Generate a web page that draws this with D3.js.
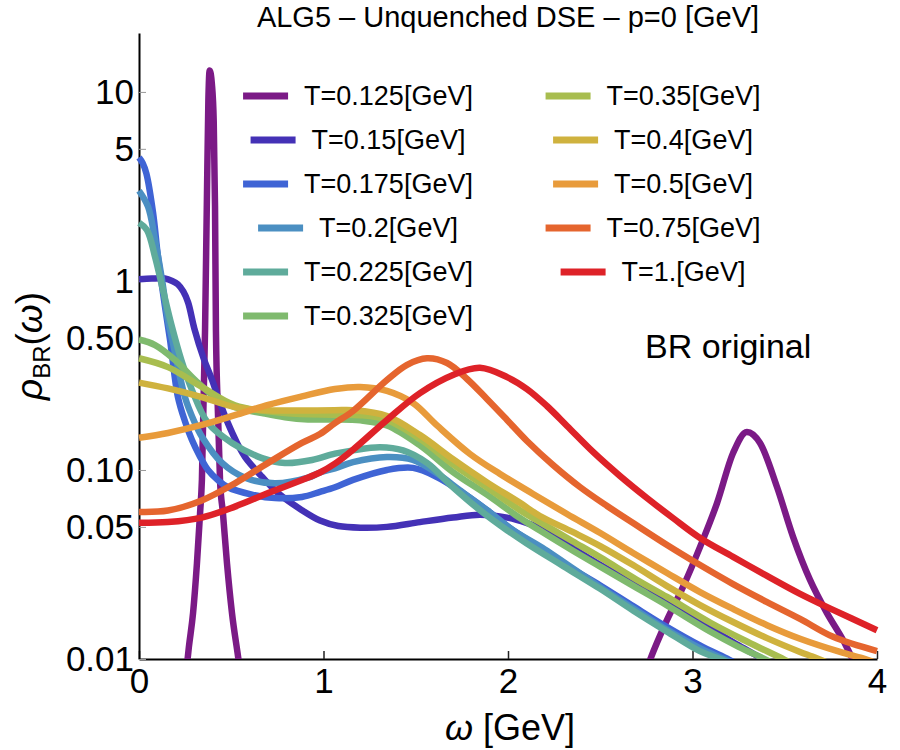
<!DOCTYPE html>
<html>
<head>
<meta charset="utf-8">
<script src="https://cdn.jsdelivr.net/npm/d3@7"></script>
<style>
  body { margin: 0; background: #fff; }
  text { font-family: "Liberation Sans", Arial, sans-serif; fill: #000; }
</style>
</head>
<body>
<div id="chart"></div>
<script>
// legend labels and line colours, one per temperature
var labels = ["T=0.125[GeV]", "T=0.15[GeV]", "T=0.175[GeV]", "T=0.2[GeV]", "T=0.225[GeV]", "T=0.325[GeV]",
              "T=0.35[GeV]", "T=0.4[GeV]", "T=0.5[GeV]", "T=0.75[GeV]", "T=1.[GeV]"];
var colors = ["#7b1a86", "#4431b6", "#3f64d5", "#4b8fc2", "#5fab9b", "#7fba6e",
              "#a8bd4f", "#cfb23e", "#e89b3b", "#e5652e", "#de2228"];

// rho_BR(omega), [omega GeV, rho]
var rho125 = [[0.20, 0.002], [0.25, 0.0075], [0.27, 0.0115], [0.293, 0.0175], [0.314, 0.032], [0.331, 0.059],
  [0.341, 0.089], [0.358, 0.55], [0.368, 2.7], [0.376, 9], [0.383, 13], [0.395, 11], [0.405, 7], [0.412, 2.5],
  [0.417, 0.55], [0.428, 0.2], [0.439, 0.089], [0.455, 0.059], [0.477, 0.032], [0.504, 0.0175], [0.537, 0.0103],
  [0.57, 0.006], [0.70, 0.002], [2.60, 0.003], [2.77, 0.0099], [2.862, 0.0161], [2.948, 0.024], [3.041, 0.0392],
  [3.133, 0.0668], [3.22, 0.123], [3.295, 0.159], [3.366, 0.139], [3.458, 0.0813], [3.545, 0.0443],
  [3.637, 0.0262], [3.729, 0.0175], [3.816, 0.0126], [3.87, 0.0099], [4.0, 0.006]];
var rho150 = [[0, 1.02], [0.07, 1.03], [0.14, 1.03], [0.18, 1.0], [0.211, 0.96], [0.24, 0.88], [0.266, 0.77],
  [0.30, 0.56], [0.35, 0.39], [0.396, 0.30], [0.44, 0.225], [0.482, 0.177], [0.53, 0.14], [0.575, 0.117],
  [0.667, 0.092], [0.753, 0.0755], [0.883, 0.0613], [0.981, 0.054], [1.08, 0.0505], [1.2, 0.0495], [1.344, 0.05],
  [1.523, 0.053], [1.702, 0.056], [1.848, 0.058], [1.995, 0.056], [2.10, 0.0525], [2.17, 0.0495], [2.27, 0.044],
  [2.4, 0.036], [2.5, 0.0315], [2.7, 0.0245], [2.92, 0.0185], [3.1, 0.0145], [3.25, 0.0118], [3.38, 0.01], [3.5, 0.0085]];
var rho175 = [[0, 4.5], [0.02, 4.2], [0.04, 3.7], [0.076, 2.3], [0.103, 1.34], [0.141, 0.73], [0.168, 0.49],
  [0.211, 0.243], [0.25, 0.18], [0.287, 0.144], [0.33, 0.118], [0.374, 0.1], [0.43, 0.088], [0.482, 0.081],
  [0.612, 0.074], [0.737, 0.071], [0.883, 0.072], [0.981, 0.0766], [1.062, 0.081], [1.16, 0.0886], [1.344, 0.1],
  [1.485, 0.1026], [1.615, 0.0918], [1.756, 0.0755], [1.886, 0.0613], [2.027, 0.048], [2.136, 0.041], [2.3, 0.032],
  [2.5, 0.0245], [2.68, 0.019], [2.86, 0.0148], [3.04, 0.0118], [3.2, 0.0099], [3.3, 0.0088]];
var rho200 = [[0, 3.0], [0.049, 2.47], [0.087, 1.65], [0.125, 1.01], [0.157, 0.62], [0.184, 0.47], [0.249, 0.243],
  [0.30, 0.18], [0.341, 0.15], [0.45, 0.109], [0.575, 0.091], [0.737, 0.085], [0.916, 0.091], [0.981, 0.097],
  [1.062, 0.102], [1.16, 0.11], [1.344, 0.117], [1.485, 0.113], [1.615, 0.096], [1.74, 0.078], [1.886, 0.0613],
  [2.027, 0.048], [2.2, 0.038], [2.5, 0.024], [2.68, 0.0185], [2.86, 0.0143], [3.04, 0.0114], [3.18, 0.0099], [3.3, 0.0088]];
var rho225 = [[0, 2.03], [0.043, 1.86], [0.087, 1.34], [0.13, 0.895], [0.179, 0.57], [0.23, 0.38], [0.287, 0.265],
  [0.374, 0.177], [0.504, 0.139], [0.667, 0.1156], [0.791, 0.109], [0.938, 0.113], [1.062, 0.122], [1.16, 0.127],
  [1.306, 0.132], [1.431, 0.127], [1.561, 0.109], [1.702, 0.081], [1.848, 0.0613], [1.995, 0.048], [2.10, 0.041],
  [2.3, 0.031], [2.5, 0.0235], [2.68, 0.018], [2.86, 0.014], [3.04, 0.011], [3.16, 0.0099], [3.3, 0.0085]];
var rho325 = [[0, 0.49], [0.087, 0.458], [0.195, 0.382], [0.304, 0.299], [0.412, 0.243], [0.52, 0.215], [0.667, 0.2],
  [0.791, 0.19], [0.916, 0.185], [1.06, 0.185], [1.2, 0.183], [1.344, 0.172], [1.523, 0.135], [1.702, 0.0975],
  [1.886, 0.074], [2.065, 0.0557], [2.173, 0.0478], [2.35, 0.0375], [2.5, 0.0308], [2.7, 0.0237], [2.862, 0.0192],
  [3.1, 0.0139], [3.25, 0.0116], [3.4, 0.0099], [3.5, 0.0088]];
var rho350 = [[0, 0.39], [0.157, 0.35], [0.34, 0.275], [0.52, 0.22], [0.79, 0.2], [1.06, 0.196], [1.2, 0.195],
  [1.344, 0.184], [1.523, 0.146], [1.702, 0.107], [1.886, 0.081], [2.065, 0.0613], [2.173, 0.053], [2.35, 0.042],
  [2.5, 0.0345], [2.7, 0.0262], [2.862, 0.0213], [3.1, 0.0155], [3.3, 0.0123], [3.5, 0.0099], [3.6, 0.0088]];
var rho400 = [[0, 0.29], [0.157, 0.27], [0.34, 0.243], [0.52, 0.215], [0.70, 0.207], [1.06, 0.207], [1.16, 0.207],
  [1.344, 0.193], [1.523, 0.153], [1.702, 0.114], [1.886, 0.086], [2.065, 0.067], [2.173, 0.0571], [2.35, 0.047],
  [2.5, 0.0396], [2.678, 0.0314], [2.862, 0.0243], [3.041, 0.0193], [3.22, 0.0157], [3.404, 0.0129], [3.583, 0.0109],
  [3.65, 0.0103], [3.75, 0.0094]];
var rho500 = [[0, 0.148], [0.157, 0.157], [0.34, 0.173], [0.52, 0.195], [0.70, 0.221], [0.883, 0.245], [1.062, 0.268],
  [1.198, 0.275], [1.344, 0.262], [1.485, 0.226], [1.615, 0.172], [1.794, 0.1215], [1.957, 0.0952], [2.136, 0.0747],
  [2.32, 0.0585], [2.5, 0.0464], [2.678, 0.0364], [2.862, 0.0285], [3.041, 0.0226], [3.22, 0.0184], [3.404, 0.0151],
  [3.583, 0.0128], [3.8, 0.0109], [3.92, 0.0101], [4.0, 0.0095]];
var rho750 = [[0, 0.06], [0.157, 0.061], [0.34, 0.069], [0.52, 0.085], [0.70, 0.109], [0.883, 0.139], [0.981, 0.155],
  [1.062, 0.177], [1.16, 0.205], [1.344, 0.299], [1.453, 0.36], [1.561, 0.39], [1.67, 0.368], [1.778, 0.303],
  [1.886, 0.2375], [1.995, 0.184], [2.103, 0.1424], [2.244, 0.1063], [2.39, 0.0813], [2.537, 0.0645], [2.678, 0.0524],
  [2.862, 0.0401], [3.041, 0.0314], [3.22, 0.0249], [3.404, 0.02], [3.583, 0.0163], [3.762, 0.0131], [4.0, 0.011]];
var rho1000 = [[0, 0.0525], [0.157, 0.053], [0.34, 0.056], [0.52, 0.064], [0.70, 0.0755], [0.883, 0.0886],
  [0.981, 0.097], [1.062, 0.108], [1.16, 0.128], [1.344, 0.184], [1.523, 0.255], [1.702, 0.318], [1.848, 0.347],
  [1.995, 0.31], [2.103, 0.268], [2.211, 0.218], [2.32, 0.171], [2.461, 0.1246], [2.607, 0.093], [2.753, 0.0711],
  [2.894, 0.0557], [3.041, 0.0437], [3.22, 0.0347], [3.404, 0.0275], [3.583, 0.0221], [3.762, 0.0182], [4.0, 0.0142]];

var allSeries = [rho125, rho150, rho175, rho200, rho225, rho325, rho350, rho400, rho500, rho750, rho1000];

// ticks
var xTicks = [0, 1, 2, 3, 4];
var xMinor = [0.2, 0.4, 0.6, 0.8, 1.2, 1.4, 1.6, 1.8, 2.2, 2.4, 2.6, 2.8, 3.2, 3.4, 3.6, 3.8];
var yMajor = [0.01, 0.05, 0.1, 0.5, 1, 5, 10];
var yLabels = ["0.01", "0.05", "0.10", "0.50", "1", "5", "10"];
var yMinor = [0.02, 0.03, 0.04, 0.06, 0.07, 0.08, 0.09, 0.2, 0.3, 0.4, 0.6, 0.7, 0.8, 0.9, 2, 3, 4, 6, 7, 8, 9, 20];

var width = 900;
var height = 750;
var plot = {left: 139, right: 877, top: 33, bottom: 659};

var svg = d3.select("#chart")
  .append("svg")
    .attr("width", width)
    .attr("height", height);

var x = d3.scaleLinear().domain([0, 4]).range([plot.left, plot.right]);
var y = d3.scaleLog().domain([0.01, 20.5]).range([plot.bottom, plot.top]);

// title
svg.append("text")
  .attr("x", (plot.left + plot.right) / 2)
  .attr("y", 27)
  .attr("text-anchor", "middle")
  .style("font-size", "29px")
  .text("ALG5 \u2013 Unquenched DSE \u2013 p=0 [GeV]");

// x axis, ticks pointing inward
var gx = svg.append("g").attr("transform", "translate(0," + plot.bottom + ")");
gx.call(d3.axisBottom(x).tickValues(xMinor).tickSize(-5).tickSizeOuter(0).tickFormat(""));
gx.call(d3.axisBottom(x).tickValues(xTicks).tickSize(-8).tickSizeOuter(0).tickPadding(9).tickFormat(d3.format("d")));
gx.selectAll(".tick line").attr("stroke", "#222").attr("stroke-width", 1.5);
gx.selectAll(".domain").attr("stroke", "#000").attr("stroke-width", 2);
gx.selectAll(".tick text").style("font-size", "35px").attr("dy", "0.7em").attr("fill", "#000");

// y axis (log)
var gy = svg.append("g").attr("transform", "translate(" + plot.left + ",0)");
gy.call(d3.axisLeft(y).tickValues(yMinor).tickSize(-4).tickSizeOuter(0).tickFormat(""));
gy.call(d3.axisLeft(y).tickValues(yMajor).tickSize(-7).tickSizeOuter(0).tickPadding(5)
  .tickFormat(function(d, i) { return yLabels[i]; }));
gy.selectAll(".tick line").attr("stroke", "#999").attr("stroke-width", 1);
gy.selectAll(".domain").attr("stroke", "#000").attr("stroke-width", 2);
gy.selectAll(".tick text").style("font-size", "35px").attr("fill", "#000");

// axis labels
svg.append("text")
  .attr("x", 510)
  .attr("y", 740)
  .attr("text-anchor", "middle")
  .style("font-size", "36px")
  .html('<tspan font-style="italic">\u03c9</tspan> [GeV]');

var ylab = svg.append("text")
  .attr("transform", "translate(42,346) rotate(-90)")
  .attr("text-anchor", "middle")
  .style("font-size", "37px");
ylab.append("tspan").attr("font-style", "italic").text("\u03c1");
ylab.append("tspan").attr("dy", 8).style("font-size", "24px").text("BR");
ylab.append("tspan").attr("dy", -8).text("(");
ylab.append("tspan").attr("font-style", "italic").text("\u03c9");
ylab.append("tspan").text(")");

// curves
svg.append("clipPath").attr("id", "clip")
  .append("rect")
    .attr("x", plot.left - 3)
    .attr("y", plot.top - 3)
    .attr("width", plot.right - plot.left + 6)
    .attr("height", plot.bottom - plot.top + 3);

var smooth = d3.line()
  .x(function(d) { return x(d[0]); })
  .y(function(d) { return y(Math.max(d[1], 0.001)); })
  .curve(d3.curveCatmullRom.alpha(0.5));
// the narrow spike of the lowest temperature must not overshoot
var spiky = d3.line()
  .x(function(d) { return x(d[0]); })
  .y(function(d) { return y(Math.max(d[1], 0.001)); })
  .curve(d3.curveMonotoneX);

svg.append("g")
  .attr("clip-path", "url(#clip)")
  .selectAll("path")
  .data(allSeries)
  .enter()
  .append("path")
    .attr("d", function(d, i) { return i === 0 ? spiky(d) : smooth(d); })
    .attr("fill", "none")
    .attr("stroke", function(d, i) { return colors[i]; })
    .attr("stroke-width", 6.5)
    .attr("stroke-linejoin", "round");

// legend: two columns, each entry centred on its column
var colCenter = [358, 653];
var rowY = 96, rowStep = 44, perCol = 6;
labels.forEach(function(lab, i) {
  var col = i < perCol ? 0 : 1;
  var row = i < perCol ? i : i - perCol;
  var g = svg.append("g");
  var t = g.append("text")
    .attr("y", rowY + row * rowStep)
    .attr("dy", "0.35em")
    .style("font-size", "27px")
    .text(lab);
  var tw = t.node().getComputedTextLength();
  var total = 45 + 16 + tw;
  var x0 = colCenter[col] - total / 2;
  g.append("line")
    .attr("x1", x0).attr("x2", x0 + 45)
    .attr("y1", rowY + row * rowStep).attr("y2", rowY + row * rowStep)
    .attr("stroke", colors[i])
    .attr("stroke-width", 7);
  t.attr("x", x0 + 61);
});

svg.append("text")
  .attr("x", 645)
  .attr("y", 358)
  .style("font-size", "34px")
  .text("BR original");
</script>
</body>
</html>
